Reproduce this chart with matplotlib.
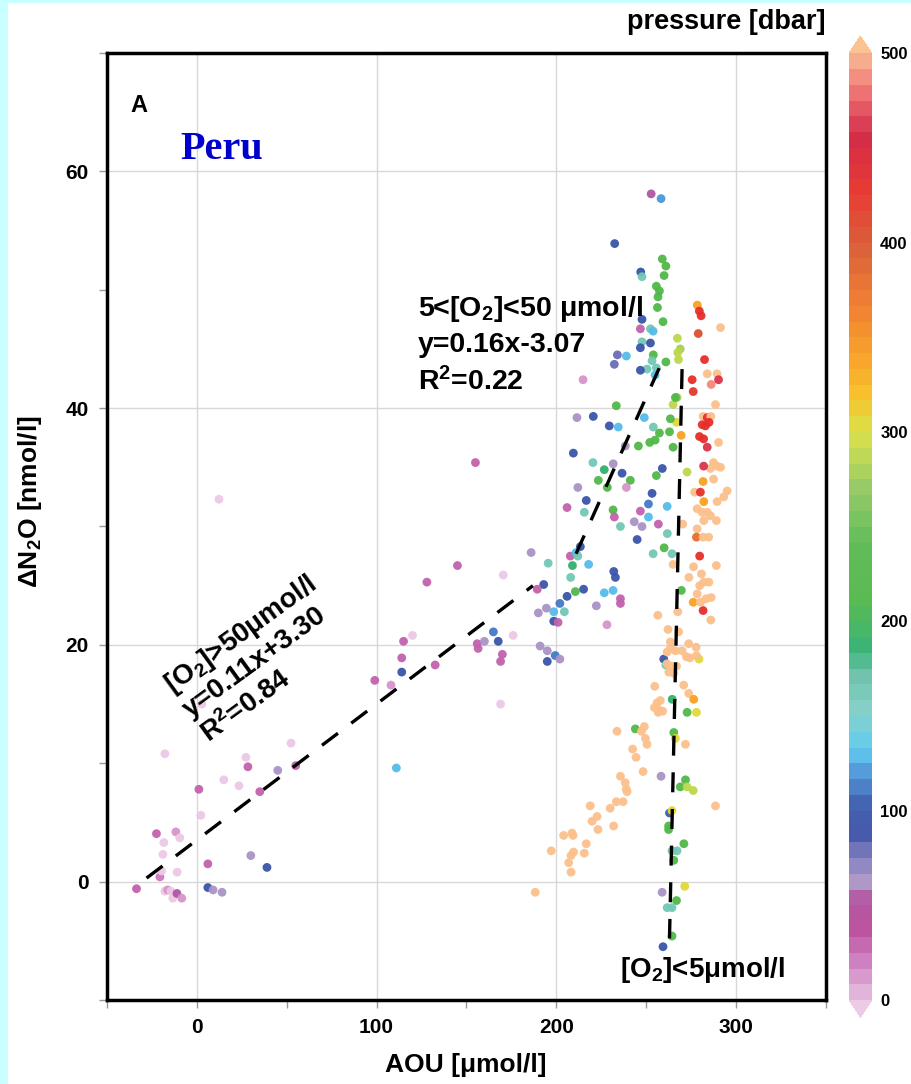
import matplotlib
matplotlib.use('Agg')
import matplotlib.pyplot as plt
from matplotlib.colors import LinearSegmentedColormap
from matplotlib.patches import Rectangle
import numpy as np

plt.rcParams['font.family'] = ['Liberation Sans', 'DejaVu Sans']
plt.rcParams['mathtext.fontset'] = 'custom'
plt.rcParams['mathtext.rm'] = 'Liberation Sans:bold'
plt.rcParams['mathtext.it'] = 'Liberation Sans:bold'
plt.rcParams['mathtext.bf'] = 'Liberation Sans:bold'
plt.rcParams['mathtext.default'] = 'rm'

# ---- data: AOU [umol/l], delta N2O [nmol/l], pressure [dbar] ----
# surface / oxic waters (O2 > 50 umol/l)
aou_oxic = [-33.6, -22.5, -18.4, -18.9, -11.7, -9.5, -20.6, -19.7, -11.0, -17.8,
            -16.2, -14.5, -13.4, -11.1, -8.4, -17.8, 1.1, 2.2, 2.8, 6.1,
            6.1, 9.0, 14.0, 15.0, 23.4, 27.3, 28.4, 30.0, 35.0, 39.0,
            45.0, 52.4, 55.0, 12.3, 99.0, 108.0, 114.0, 114.0, 115.0, 120.0,
            128.0, 132.6, 111.0, 145.0, 155.0, 170.5, 169.0, 165.0, 167.7, 176.0,
            156.0, 156.5, 160.0, 170.0, 169.0]
n2o_oxic = [-0.6, 4.05, 3.3, 2.3, 4.2, 3.7, 0.4, 0.9, 0.8, -0.8,
            -0.7, -0.8, -1.4, -1.0, -1.4, 10.8, 7.8, 5.6, 15.0, 1.5,
            -0.5, -0.7, -0.9, 8.6, 8.1, 10.5, 9.7, 2.2, 7.6, 1.2,
            9.4, 11.7, 9.8, 32.3, 17.0, 16.6, 17.7, 18.9, 20.3, 20.8,
            25.3, 18.3, 9.6, 26.7, 35.4, 25.9, 15.0, 21.1, 20.3, 20.8,
            20.1, 19.7, 20.3, 19.2, 18.6]
p_oxic = [30, 30, -5, -5, 15, -5, 20, -5, -5, -5,
          10, -5, -5, 50, 15, -5, 30, -5, -5, 30,
          95, 60, 60, -5, -5, -5, 30, 60, 30, 95,
          60, -5, 30, -5, 30, 15, 95, 30, 30, -5,
          30, 30, 130, 30, 30, -5, -5, 110, 95, -5,
          30, 30, 60, 30, 30]

# intermediate waters (5 < O2 < 50 umol/l)
aou_mid = [186.0, 195.5, 193.0, 189.4, 206.0, 209.5, 212.0, 207.8, 209.0, 208.0,
           210.6, 206.0, 202.0, 198.6, 204.5, 198.6, 201.0, 190.0, 194.5, 191.0,
           195.0, 195.0, 199.4, 202.0, 252.8, 258.3, 232.5, 259.0, 261.0, 260.0,
           247.0, 247.7, 255.7, 257.4, 256.6, 256.3, 259.4, 247.7, 246.8, 252.4,
           253.9, 247.7, 252.4, 246.8, 254.0, 253.3, 261.0, 250.5, 255.7, 255.0,
           246.8, 234.0, 232.3, 239.0, 214.9, 267.4, 269.0, 267.6, 268.0, 267.2,
           265.0, 266.3, 233.4, 211.5, 220.6, 229.5, 234.5, 249.0, 254.0, 257.4,
           263.0, 255.0, 245.7, 265.0, 266.9, 269.5, 238.4, 220.4, 231.7, 226.7,
           236.6, 223.4, 228.4, 241.2, 239.0, 255.7, 259.0, 272.8, 253.3, 251.3,
           261.7, 216.7, 215.6, 231.6, 232.3, 246.8, 251.3, 243.4, 247.7, 256.8,
           235.7, 245.0, 261.8, 260.0, 264.4, 253.9, 218.0, 213.4, 211.0, 212.0,
           232.0, 232.9, 215.2, 226.7, 231.6, 235.7, 235.7, 222.3, 228.2, 263.5,
           252.0, 259.8]
n2o_mid = [27.8, 26.9, 25.1, 24.7, 31.6, 36.2, 33.3, 27.5, 26.7, 25.7,
           24.5, 24.1, 23.5, 22.8, 22.8, 22.0, 21.9, 22.7, 23.1, 19.9,
           19.5, 18.6, 19.1, 18.8, 58.1, 57.7, 53.9, 52.6, 52.0, 51.2,
           51.5, 51.1, 50.3, 49.9, 49.4, 48.5, 47.3, 47.5, 46.7, 46.7,
           46.5, 45.6, 45.5, 45.1, 44.5, 44.0, 43.9, 43.3, 43.4, 42.8,
           43.2, 44.5, 43.7, 44.4, 42.4, 45.9, 45.0, 44.7, 44.1, 40.9,
           40.3, 40.9, 40.2, 39.2, 39.3, 38.5, 38.4, 39.2, 38.4, 37.9,
           38.0, 37.3, 36.8, 36.7, 38.8, 37.7, 36.8, 35.4, 35.3, 34.8,
           34.5, 33.9, 33.3, 33.9, 33.3, 34.3, 34.9, 34.6, 32.8, 31.9,
           31.7, 32.2, 31.2, 31.4, 30.8, 31.3, 30.8, 30.4, 30.0, 30.2,
           30.0, 28.9, 29.4, 28.2, 27.7, 27.7, 26.8, 28.3, 27.8, 27.5,
           26.2, 25.7, 24.7, 24.4, 24.6, 23.9, 23.5, 23.3, 21.7, 39.1,
           37.1, 18.8]
p_mid = [60, 160, 95, 30, 30, 95, 60, 30, 185, 160,
         215, 95, 110, 130, 160, 95, 30, 60, 60, 60,
         60, 95, 110, 60, 55, 120, 95, 215, 215, 215,
         95, 160, 215, 215, 215, 215, 215, 95, 30, 160,
         130, 160, 95, 95, 215, 160, 215, 160, 160, 130,
         95, 80, 75, 130, 15, 285, 280, 285, 285, 280,
         285, 215, 215, 60, 95, 95, 130, 130, 160, 215,
         215, 215, 215, 215, 300, 340, 60, 160, 60, 185,
         95, 215, 215, 215, 15, 215, 95, 285, 95, 110,
         130, 95, 160, 215, 30, 30, 130, 60, 60, 30,
         160, 95, 160, 215, 160, 160, 130, 95, 130, 160,
         95, 95, 95, 130, 130, 30, 30, 60, 15, 215,
         215, 95]

# deep / anoxic waters (O2 < 5 umol/l)
aou_deep = [263.0, 264.4, 262.5, 262.5, 271.0, 264.4, 267.2, 265.4, 271.5, 258.9,
            266.9, 261.7, 264.4, 264.4, 259.4, 264.5, 272.8, 278.0, 265.4, 266.3,
            244.0, 258.3, 271.9, 269.0, 272.8, 276.2, 269.6, 276.2, 281.7, 279.4,
            261.0, 278.5, 279.6, 280.6, 291.4, 279.0, 282.5, 275.6, 284.0, 289.5,
            286.2, 290.3, 276.2, 288.6, 281.7, 284.0, 286.0, 281.2, 283.0, 285.0,
            279.7, 282.0, 284.0, 290.3, 287.5, 289.5, 285.8, 291.4, 282.0, 281.7,
            277.0, 280.2, 282.1, 278.4, 289.5, 293.2, 295.1, 287.5, 281.2, 284.0,
            285.8, 282.1, 289.1, 270.4, 278.4, 278.0, 281.7, 284.8, 279.8, 265.0,
            276.4, 280.8, 273.8, 282.1, 284.9, 279.8, 278.4, 283.4, 286.2, 280.2,
            289.1, 267.6, 256.5, 286.0, 262.2, 268.1, 263.5, 263.5, 266.3, 261.7,
            273.7, 277.8, 278.0, 270.0, 272.4, 274.3, 261.7, 264.5, 262.6, 265.4,
            266.9, 254.8, 270.9, 273.7, 276.5, 256.1, 257.9, 254.6, 257.0, 259.2,
            256.7, 271.9, 249.0, 247.4, 233.8, 249.6, 250.5, 242.5, 244.4, 248.3,
            235.7, 238.4, 239.0, 239.4, 233.4, 237.2, 230.0, 231.9, 223.2, 218.9,
            222.7, 219.9, 204.1, 208.7, 209.3, 216.7, 215.6, 209.6, 208.2, 206.9,
            208.2, 197.2, 188.3, 288.6]
n2o_deep = [5.8, 6.0, 4.7, 4.4, 3.2, 2.6, 2.6, 1.8, -0.4, -0.9,
            -1.6, -2.2, -2.2, -4.6, -5.5, 15.4, 14.3, 14.3, 12.6, 12.1,
            12.9, 8.9, 8.6, 8.0, 8.0, 7.7, 24.6, 23.6, 22.9, 18.8,
            18.3, 48.7, 48.2, 47.8, 46.8, 46.3, 44.1, 42.4, 42.9, 42.9,
            42.0, 42.4, 41.4, 40.3, 39.3, 39.2, 39.3, 38.6, 38.5, 38.8,
            37.6, 37.4, 36.7, 37.1, 35.4, 35.1, 34.9, 35.0, 35.1, 33.8,
            32.9, 32.9, 32.1, 31.5, 32.1, 32.5, 33.0, 34.0, 31.2, 31.2,
            30.9, 30.5, 30.5, 30.2, 29.8, 29.1, 29.1, 29.1, 27.5, 26.8,
            26.6, 26.0, 25.7, 25.3, 25.3, 25.0, 24.3, 23.9, 24.0, 23.6,
            26.7, 22.8, 22.5, 22.1, 21.3, 21.1, 20.25, 19.7, 19.5, 19.4,
            20.1, 19.8, 19.1, 19.5, 19.0, 18.9, 18.4, 18.2, 17.7, 17.6,
            18.2, 16.5, 16.6, 15.9, 15.4, 15.1, 15.3, 14.7, 14.5, 14.4,
            14.3, 11.6, 13.1, 12.7, 12.7, 12.1, 11.6, 11.2, 10.5, 9.3,
            8.9, 8.35, 7.8, 7.6, 6.75, 6.75, 6.2, 4.7, 4.4, 6.4,
            5.5, 5.1, 3.9, 4.1, 3.9, 3.2, 2.4, 2.5, 2.2, 1.6,
            0.8, 2.6, -0.9, 6.4]
p_deep = [100, 300, 215, 215, 215, 160, 160, 215, 300, 60,
          215, 160, 160, 215, 95, 185, 215, 300, 215, 300,
          215, 60, 215, 215, 285, 285, 215, 340, 430, 300,
          160, 340, 430, 430, 550, 400, 430, 430, 550, 550,
          485, 460, 420, 550, 550, 430, 550, 430, 430, 430,
          430, 430, 460, 550, 550, 550, 550, 550, 460, 340,
          550, 430, 340, 550, 550, 550, 550, 550, 550, 550,
          550, 550, 550, 550, 550, 380, 550, 550, 430, 550,
          550, 550, 550, 550, 550, 550, 550, 550, 550, 550,
          550, 550, 550, 550, 550, 550, 550, 550, 550, 550,
          550, 550, 550, 550, 550, 550, 550, 550, 550, 550,
          550, 550, 550, 550, 340, 550, 550, 550, 550, 550,
          550, 550, 550, 550, 550, 550, 550, 550, 550, 550,
          550, 550, 550, 550, 550, 550, 550, 550, 550, 550,
          550, 550, 550, 550, 550, 550, 550, 550, 550, 550,
          550, 550, 550, 550]

# regression lines (end points)
fit1_x = [-28, 187]
fit1_y = [0.3, 25.0]
fit2_x = [211, 260]
fit2_y = [27.7, 44.3]
fit3_x = [270, 263]
fit3_y = [43.3, -4.8]

aou = np.array(aou_oxic + aou_mid + aou_deep)
n2o = np.array(n2o_oxic + n2o_mid + n2o_deep)
pres = np.array(p_oxic + p_mid + p_deep)

# colour scale (pressure)
cmap = LinearSegmentedColormap.from_list('press', [
    (0.00, '#e0b0d8'), (0.04, '#c870b8'), (0.07, '#b84898'), (0.10, '#b050a0'),
    (0.12, '#a898c8'), (0.15, '#7070b8'), (0.17, '#3c50a8'), (0.20, '#3858a8'),
    (0.23, '#4888d0'), (0.26, '#58c8f0'), (0.30, '#80d0c8'), (0.34, '#68c0a8'),
    (0.37, '#30b070'), (0.42, '#50b848'), (0.48, '#58b850'), (0.54, '#90c860'),
    (0.60, '#d8e040'), (0.64, '#f8c020'), (0.68, '#f8a020'), (0.74, '#f07828'),
    (0.80, '#d85830'), (0.86, '#e83028'), (0.92, '#d02040'), (0.97, '#f07070'),
    (1.00, '#f8a888')], N=60)
cmap.set_under('#ecc8e4')
cmap.set_over('#fcc08c')

fig = plt.figure(figsize=(9.11, 10.84), dpi=100, facecolor='#c8ffff')
fig.patches.append(Rectangle((8 / 911, 0), 1, 1 - 3 / 1084, transform=fig.transFigure,
                             facecolor='white', edgecolor='none', zorder=-10))

ax = fig.add_axes([0.1175, 0.0775, 0.789, 0.8736])
sc = ax.scatter(aou, n2o, c=pres, cmap=cmap, vmin=0, vmax=500, s=40,
                edgecolors='none', alpha=0.95, zorder=3)

for fx, fy in [(fit1_x, fit1_y), (fit2_x, fit2_y), (fit3_x, fit3_y)]:
    ax.plot(fx, fy, color='black', lw=2.4, dashes=(6, 5), zorder=4)

ax.set_xlim(-50, 350)
ax.set_ylim(-10, 70)
ax.set_xticks([0, 100, 200, 300])
ax.set_xticks([-50, 50, 150, 250, 350], minor=True)
ax.set_yticks([0, 20, 40, 60])
ax.set_yticks([-10, 10, 30, 50, 70], minor=True)
ax.grid(True, color='#d8d8d8', lw=1.0)
ax.tick_params(which='both', direction='out', length=6, color='#999999', width=1)
ax.tick_params(labelsize=15, pad=7)
for lab in ax.get_xticklabels() + ax.get_yticklabels():
    lab.set_fontweight('bold')
for sp in ax.spines.values():
    sp.set_linewidth(2.5)

ax.set_xlabel('AOU [μmol/l]', fontsize=19, fontweight='bold', va='center')
ax.set_ylabel('ΔN$_2$O [nmol/l]', fontsize=19, fontweight='bold', va='center')
ax.xaxis.set_label_coords(0.499, -0.069)
ax.yaxis.set_label_coords(-0.107, 0.526)

ax.text(0.032, 0.945, 'A', transform=ax.transAxes, fontsize=17, fontweight='bold',
        va='center', ha='left')
ax.text(0.1015, 0.8976, 'Peru', transform=ax.transAxes, fontsize=29, fontweight='bold',
        family='Liberation Serif', color='#0000cc', va='center', ha='left')

for txt, yy in [('5<[O$_2$]<50 μmol/l', 48.4), ('y=0.16x-3.07', 45.3), ('R$^2$=0.22', 42.2)]:
    ax.text(123.1, yy, txt, fontsize=20.5, fontweight='bold', va='center', ha='left', zorder=5)

ax.text(-21.0, 17.4, '[O$_2$]>50μmol/l\ny=0.11x+3.30\nR$^2$=0.84', fontsize=20,
        fontweight='bold', rotation=36, rotation_mode='anchor', ha='left', va='top',
        multialignment='left', linespacing=1.15, zorder=5)

ax.text(235.6, -7.5, '[O$_2$]<5μmol/l', fontsize=20, fontweight='bold',
        va='center', ha='left', zorder=5)

cax = fig.add_axes([0.932, 0.0617, 0.025, 0.9049])
cb = fig.colorbar(sc, cax=cax, extend='both', extendfrac=0.018, ticks=[0, 100, 200, 300, 400, 500])
cb.outline.set_visible(False)
cb.ax.tick_params(length=0, labelsize=12, pad=6)
for lab in cb.ax.get_yticklabels():
    lab.set_fontweight('bold')

fig.text(0.906, 0.980, 'pressure [dbar]', fontsize=19.5, fontweight='bold', ha='right', va='center')

plt.savefig('out.png', dpi=100, facecolor=fig.get_facecolor())
